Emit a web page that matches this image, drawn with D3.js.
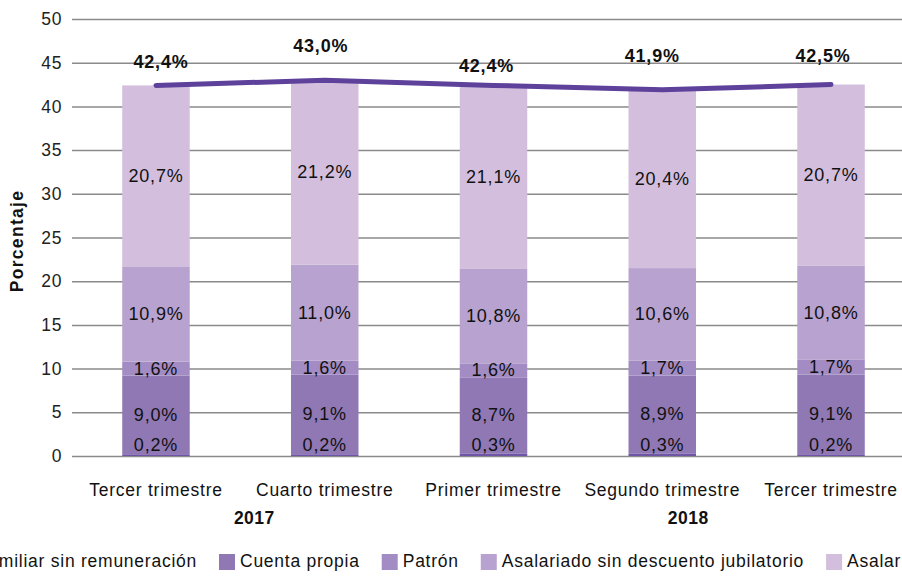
<!DOCTYPE html>
<html>
<head>
<meta charset="utf-8">
<script src="https://cdn.jsdelivr.net/npm/d3@7"></script>
<style>
  body { margin: 0; background: #fff; }
  svg { display: block; font-family: "Liberation Sans", Arial, Helvetica, sans-serif; }
  .tick text { fill: #222; }
</style>
</head>
<body>
<svg width="902" height="576"></svg>
<script>
// ---- data ----
const categories = ['Tercer trimestre', 'Cuarto trimestre', 'Primer trimestre', 'Segundo trimestre', 'Tercer trimestre'];
const years = [
  { label: '2017', first: 0, last: 1 },
  { label: '2018', first: 2, last: 4 }
];
const seriesNames = [
  'Familiar sin remuneración',
  'Cuenta propia',
  'Patrón',
  'Asalariado sin descuento jubilatorio',
  'Asalariado con descuento jubilatorio'
];
const familiar = [0.2, 0.2, 0.3, 0.3, 0.2];
const cuentaPropia = [9.0, 9.1, 8.7, 8.9, 9.1];
const patron = [1.6, 1.6, 1.6, 1.7, 1.7];
const asalSinDesc = [10.9, 11.0, 10.8, 10.6, 10.8];
const asalConDesc = [20.7, 21.2, 21.1, 20.4, 20.7];
const total = [42.4, 43.0, 42.4, 41.9, 42.5];
const yTicks = [0, 5, 10, 15, 20, 25, 30, 35, 40, 45, 50];

// ---- layout ----
const colors = ['#6f55a5', '#8f78b4', '#a38cc4', '#b8a2cf', '#d3bfdd'];
const lineColor = '#5e419a';
const totalLabelDx = [5, -4, -7, -10, -8];     // hand-placed labels, as in the original
const totalLabelDy = [-17, -28, -13, -28, -23];
const yearDx = [14, 26];

const svg = d3.select('svg');
const width = +svg.attr('width');

const x = d3.scaleBand()
  .domain(d3.range(categories.length))
  .range([71.6, 915.4])
  .paddingInner(0.6)
  .paddingOuter(0.3);

const y = d3.scaleLinear().domain([0, 50]).range([456, 19]);
const cx = i => x(i) + x.bandwidth() / 2;

// gridlines (under bars)
svg.append('g')
  .attr('transform', 'translate(72,0)')
  .call(d3.axisLeft(y).tickValues(yTicks).tickSize(-(width - 72)).tickFormat(''))
  .call(g => g.select('.domain').remove())
  .selectAll('.tick line')
    .attr('stroke', '#8a8a8a')
    .attr('stroke-width', 1.5);

// tick labels
svg.append('g')
  .attr('transform', 'translate(62,0)')
  .call(d3.axisLeft(y).tickValues(yTicks).tickSize(0).tickPadding(0))
  .call(g => g.select('.domain').remove())
  .selectAll('text')
    .attr('font-size', 17.5)
    .attr('letter-spacing', 0.6)
    .attr('font-family', '"Liberation Sans", Arial, sans-serif');

// stacked bars
const rows = categories.map((c, i) => ({
  i,
  s0: familiar[i], s1: cuentaPropia[i], s2: patron[i], s3: asalSinDesc[i], s4: asalConDesc[i]
}));
const stack = d3.stack().keys(['s0', 's1', 's2', 's3', 's4'])(rows);

const layer = svg.append('g')
  .selectAll('g')
  .data(stack)
  .join('g')
    .attr('fill', (d, k) => colors[k]);

layer.selectAll('rect')
  .data(d => d)
  .join('rect')
    .attr('x', d => x(d.data.i))
    .attr('width', x.bandwidth())
    .attr('y', d => y(d[1]))
    .attr('height', d => y(d[0]) - y(d[1]));

// segment labels
const fmt = v => d3.format('.1f')(v).replace('.', ',') + '%';
svg.append('g')
  .selectAll('g')
  .data(stack)
  .join('g')
  .selectAll('text')
  .data(d => d)
  .join('text')
    .attr('x', d => cx(d.data.i))
    .attr('y', d => Math.min(y((d[0] + d[1]) / 2), y(0) - 11))
    .attr('text-anchor', 'middle')
    .attr('dominant-baseline', 'central')
    .attr('font-size', 18)
    .attr('letter-spacing', 0.8)
    .attr('fill', '#111')
    .text(d => fmt(d[1] - d[0]));

// total line
svg.append('path')
  .datum(total)
  .attr('fill', 'none')
  .attr('stroke', lineColor)
  .attr('stroke-width', 5)
  .attr('stroke-linecap', 'round')
  .attr('stroke-linejoin', 'round')
  .attr('d', d3.line().x((d, i) => cx(i)).y(d => y(d)));

svg.append('g')
  .selectAll('text')
  .data(total)
  .join('text')
    .attr('x', (d, i) => cx(i) + totalLabelDx[i])
    .attr('y', (d, i) => y(d) + totalLabelDy[i])
    .attr('text-anchor', 'middle')
    .attr('font-size', 18)
    .attr('font-weight', 'bold')
    .attr('letter-spacing', 0.8)
    .attr('fill', '#111')
    .text(fmt);

// category labels
svg.append('g')
  .selectAll('text')
  .data(categories)
  .join('text')
    .attr('x', (d, i) => cx(i))
    .attr('y', 496)
    .attr('text-anchor', 'middle')
    .attr('font-size', 17.5)
    .attr('letter-spacing', 0.75)
    .attr('fill', '#111')
    .text(d => d);

svg.append('g')
  .selectAll('text')
  .data(years)
  .join('text')
    .attr('x', (d, k) => (cx(d.first) + cx(d.last)) / 2 + yearDx[k])
    .attr('y', 524)
    .attr('text-anchor', 'middle')
    .attr('font-size', 17.5)
    .attr('font-weight', 'bold')
    .attr('letter-spacing', 0.5)
    .attr('fill', '#111')
    .text(d => d.label);

// y axis title
svg.append('text')
  .attr('transform', 'translate(23,241) rotate(-90)')
  .attr('text-anchor', 'middle')
  .attr('font-size', 17.5)
  .attr('font-weight', 'bold')
  .attr('letter-spacing', 1.3)
  .attr('fill', '#111')
  .text('Porcentaje');

// legend (runs past both edges, as in the original)
const legend = svg.append('g');
const items = legend.selectAll('g')
  .data(seriesNames)
  .join('g');
items.append('rect')
  .attr('width', 16).attr('height', 16)
  .attr('y', 554)
  .attr('fill', (d, k) => colors[k]);
items.append('text')
  .attr('x', 21)
  .attr('y', 567)
  .attr('font-size', 17.5)
  .attr('letter-spacing', 0.75)
  .attr('fill', '#111')
  .text(d => d);

const widths = [];
items.selectAll('text').each(function () { widths.push(this.getComputedTextLength()); });
const gap = 22;
const itemW = widths.map(w => 21 + w + gap);
let acc = 219 - itemW[0];
items.attr('transform', (d, k) => {
  const t = `translate(${acc},0)`;
  acc += itemW[k];
  return t;
});
</script>
</body>
</html>
